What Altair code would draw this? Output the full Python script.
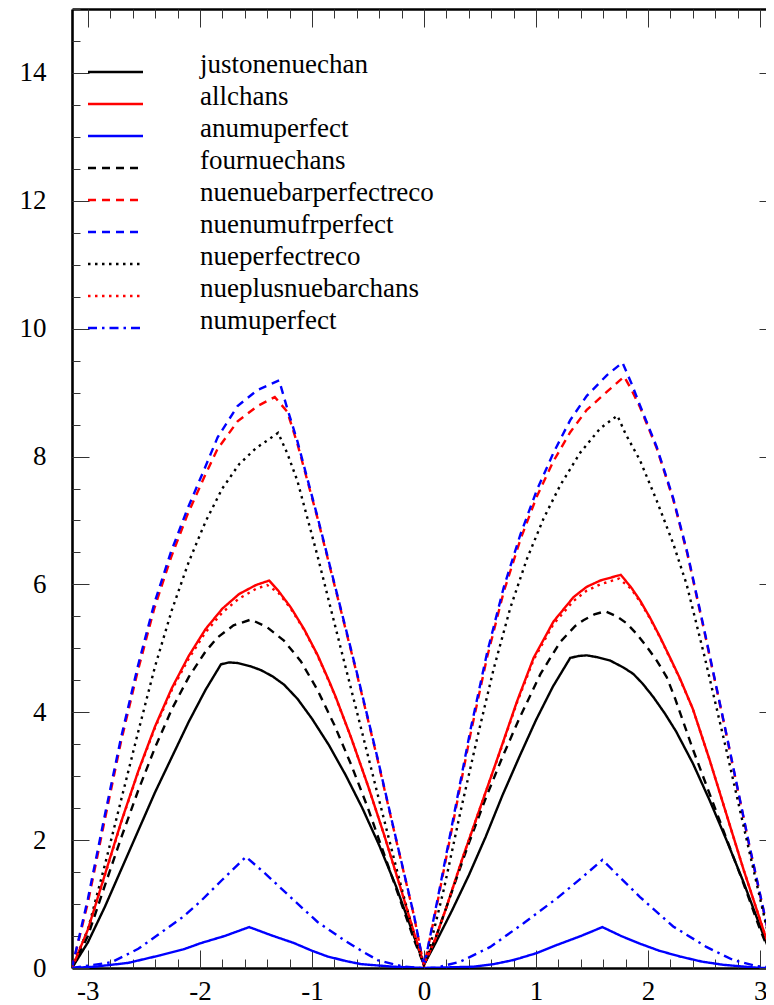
import math
import altair as alt
import pandas as pd

names = ["justonenuechan", "allchans", "anumuperfect", "fournuechans",
         "nuenuebarperfectreco", "nuenumufrperfect", "nueperfectreco",
         "nueplusnuebarchans", "numuperfect"]
colors = ["#000000", "#ff0000", "#0000ff", "#000000", "#ff0000", "#0000ff",
          "#000000", "#ff0000", "#0000ff"]
dashes = [[1, 0], [1, 0], [1, 0], [8, 6], [8, 6], [8, 6], [2.5, 4.5], [2.5, 4.5], [9, 5, 2.5, 5]]

PI = math.pi

x_justonenuechan = [-PI, -3.0, -2.85, -2.7, -2.55, -2.4, -2.25, -2.1, -1.95, -1.812, -1.74, -1.663,
                    -1.55, -1.456, -1.35, -1.248, -1.129, -1.0, -0.85, -0.7, -0.55, -0.4, -0.25,
                    -0.1, 0.0,
                    0.1, 0.25, 0.4, 0.55, 0.7, 0.85, 1.0, 1.15, 1.305, 1.38, 1.453, 1.55, 1.66,
                    1.78, 1.868, 1.95, 2.046, 2.15, 2.25, 2.4, 2.55, 2.7, 2.85, 3.0, PI]
y_justonenuechan = [0.0, 0.4, 0.95, 1.55, 2.15, 2.75, 3.3, 3.85, 4.35, 4.75, 4.78, 4.77,
                    4.72, 4.66, 4.56, 4.43, 4.21, 3.9, 3.49, 3.02, 2.5, 1.92, 1.28,
                    0.55, 0.05,
                    0.38, 0.9, 1.45, 2.05, 2.7, 3.3, 3.88, 4.4, 4.85, 4.88, 4.89, 4.86, 4.81,
                    4.7, 4.6, 4.45, 4.24, 3.98, 3.7, 3.2, 2.62, 2.0, 1.35, 0.65, 0.0]

x_allchans = [-PI, -3.0, -2.85, -2.7, -2.55, -2.4, -2.25, -2.1, -1.95, -1.8, -1.65, -1.5, -1.382,
              -1.3, -1.189, -1.07, -0.951, -0.85, -0.788, -0.65, -0.5, -0.35, -0.2, -0.08, 0.0,
              0.1, 0.2, 0.35, 0.5, 0.65, 0.83, 0.978, 1.156, 1.334, 1.45, 1.572, 1.756,
              1.85, 1.928, 2.02, 2.106, 2.2, 2.284, 2.4, 2.55, 2.7, 2.85, 3.0, PI]
y_allchans = [0.0, 0.6, 1.45, 2.3, 3.08, 3.78, 4.38, 4.88, 5.3, 5.62, 5.85, 5.99, 6.06,
              5.9, 5.64, 5.3, 4.9, 4.5, 4.24, 3.6, 2.85, 2.05, 1.2, 0.5, 0.05,
              0.45, 0.95, 1.75, 2.5, 3.25, 4.17, 4.85, 5.42, 5.8, 5.96, 6.06, 6.15,
              5.95, 5.75, 5.47, 5.18, 4.84, 4.53, 4.05, 3.25, 2.4, 1.55, 0.75, 0.0]

x_anumuperfect = [-PI, -2.94, -2.64, -2.35, -2.15, -1.99, -1.78, -1.56, -1.36, -1.16, -1.0, -0.86,
                  -0.7, -0.56, -0.27, 0.0,
                  0.44, 0.62, 0.8, 1.0, 1.186, 1.4, 1.592, 1.76, 1.928, 2.1, 2.284, 2.48, 2.67,
                  3.0, PI]
y_anumuperfect = [0.0, 0.02, 0.08, 0.2, 0.29, 0.39, 0.5, 0.64, 0.51, 0.39, 0.27, 0.18,
                  0.11, 0.06, 0.02, 0.0,
                  0.02, 0.06, 0.125, 0.23, 0.36, 0.5, 0.64, 0.5, 0.38, 0.27, 0.18, 0.1, 0.05,
                  0.0, 0.0]

x_fournuechans = [-PI, -3.0, -2.85, -2.7, -2.55, -2.4, -2.25, -2.1, -1.95, -1.842, -1.7, -1.545,
                  -1.4, -1.25, -1.1, -0.951, -0.8, -0.65, -0.5, -0.35, -0.2, -0.08, 0.0,
                  0.1, 0.25, 0.4, 0.55, 0.7, 0.85, 1.04, 1.216, 1.35, 1.423, 1.52, 1.616, 1.72,
                  1.81, 1.9, 1.99, 2.08, 2.166, 2.24, 2.4, 2.55, 2.7, 2.85, 3.0, PI]
y_fournuechans = [0.0, 0.5, 1.28, 2.05, 2.78, 3.45, 4.05, 4.55, 4.95, 5.17, 5.36, 5.45,
                  5.33, 5.12, 4.8, 4.35, 3.8, 3.18, 2.5, 1.75, 1.0, 0.4, 0.05,
                  0.45, 1.2, 1.95, 2.65, 3.3, 3.9, 4.6, 5.1, 5.35, 5.44, 5.53, 5.58, 5.5,
                  5.39, 5.22, 5.02, 4.8, 4.55, 4.22, 3.42, 2.72, 2.02, 1.33, 0.6, 0.0]

x_nuenuebarperfectreco = [-PI, -3.0, -2.851, -2.703, -2.554, -2.406, -2.258, -2.109, -1.961, -1.842,
                          -1.664, -1.486, -1.332, -1.22, -1.13, -0.951, -0.773, -0.595, -0.417,
                          -0.239, -0.09, 0.0,
                          0.117, 0.266, 0.414, 0.563, 0.711, 0.86, 1.008, 1.156, 1.305, 1.453,
                          1.631, 1.786, 1.85, 1.928, 2.077, 2.224, 2.35, 2.5, 2.7, 2.9, 3.05, PI]
y_nuenuebarperfectreco = [0.0, 1.02, 2.3, 3.55, 4.65, 5.63, 6.42, 7.1, 7.68, 8.12,
                          8.55, 8.79, 8.93, 8.7, 8.2, 7.04, 5.81, 4.57, 3.28,
                          1.93, 0.82, 0.02,
                          1.0, 2.33, 3.65, 4.86, 5.88, 6.7, 7.38, 7.93, 8.38, 8.73,
                          9.01, 9.25, 9.05, 8.77, 8.13, 7.33, 6.48, 5.28, 3.64, 1.94, 0.74, 0.0]

x_nuenumufrperfect = [-PI, -3.0, -2.851, -2.703, -2.554, -2.406, -2.258, -2.109, -1.961, -1.842,
                      -1.664, -1.486, -1.293, -1.22, -1.13, -0.951, -0.773, -0.595, -0.417,
                      -0.239, -0.09, 0.0,
                      0.117, 0.266, 0.414, 0.563, 0.711, 0.86, 1.008, 1.156, 1.305, 1.453,
                      1.631, 1.771, 1.85, 1.928, 2.077, 2.224, 2.35, 2.5, 2.7, 2.9, 3.05, PI]
y_nuenumufrperfect = [0.0, 1.08, 2.37, 3.61, 4.72, 5.71, 6.51, 7.19, 7.8, 8.3,
                      8.79, 9.04, 9.19, 8.75, 8.24, 7.06, 5.83, 4.59, 3.3,
                      1.94, 0.83, 0.02,
                      1.04, 2.38, 3.72, 4.93, 5.95, 6.78, 7.48, 8.06, 8.57, 8.95,
                      9.27, 9.47, 9.15, 8.8, 8.15, 7.35, 6.5, 5.3, 3.65, 1.95, 0.75, 0.0]

x_nueperfectreco = [-PI, -3.0, -2.85, -2.7, -2.55, -2.4, -2.25, -2.1, -1.95, -1.8, -1.65, -1.5,
                    -1.4, -1.302, -1.22, -1.13, -0.951, -0.773, -0.595, -0.417, -0.239, -0.09, 0.0,
                    0.028, 0.177, 0.325, 0.474, 0.622, 0.77, 0.919, 1.067, 1.216, 1.394, 1.572,
                    1.726, 1.8, 1.928, 2.077, 2.224, 2.344, 2.5, 2.7, 2.9, 3.05, PI]
y_nueperfectreco = [0.0, 0.6, 1.6, 2.65, 3.7, 4.72, 5.6, 6.35, 6.98, 7.5, 7.88, 8.13,
                    8.25, 8.37, 8.05, 7.62, 6.45, 5.21, 3.98, 2.74, 1.51, 0.52, 0.05,
                    0.15, 1.23, 2.44, 3.59, 4.68, 5.63, 6.4, 7.03, 7.55, 8.06, 8.44,
                    8.64, 8.35, 7.94, 7.31, 6.64, 6.0, 4.9, 3.4, 1.85, 0.7, 0.0]

x_nueplusnuebarchans = [-PI, -3.0, -2.85, -2.7, -2.55, -2.4, -2.25, -2.1, -1.95, -1.8, -1.65, -1.5,
                        -1.4, -1.3, -1.189, -1.07, -0.951, -0.85, -0.788, -0.65, -0.5, -0.35, -0.2,
                        -0.08, 0.0,
                        0.1, 0.2, 0.35, 0.5, 0.65, 0.83, 0.978, 1.156, 1.334, 1.45, 1.572, 1.74,
                        1.85, 1.928, 2.02, 2.106, 2.2, 2.284, 2.4, 2.55, 2.7, 2.85, 3.0, PI]
y_nueplusnuebarchans = [0.0, 0.6, 1.44, 2.29, 3.07, 3.76, 4.35, 4.84, 5.25, 5.56, 5.78, 5.93,
                        5.99, 5.87, 5.62, 5.29, 4.89, 4.49, 4.23, 3.6, 2.85, 2.05, 1.2,
                        0.5, 0.05,
                        0.45, 0.95, 1.75, 2.5, 3.24, 4.15, 4.82, 5.38, 5.74, 5.9, 6.0, 6.09,
                        5.93, 5.73, 5.46, 5.17, 4.83, 4.52, 4.05, 3.25, 2.4, 1.55, 0.75, 0.0]

x_numuperfect = [-PI, -2.79, -2.55, -2.35, -2.15, -1.99, -1.8, -1.589, -1.4, -1.162, -0.95, -0.717,
                 -0.55, -0.41, -0.18, 0.0,
                 0.1, 0.325, 0.592, 0.889, 1.186, 1.4, 1.592, 1.76, 1.928, 2.224, 2.52, 2.759,
                 2.97, PI]
y_numuperfect = [0.0, 0.09, 0.3, 0.55, 0.8, 1.05, 1.38, 1.74, 1.45, 1.06, 0.72, 0.44,
                 0.26, 0.12, 0.02, 0.0,
                 0.0, 0.1, 0.33, 0.7, 1.09, 1.4, 1.69, 1.4, 1.11, 0.65, 0.33, 0.125,
                 0.03, 0.0]

series_x = [x_justonenuechan, x_allchans, x_anumuperfect, x_fournuechans, x_nuenuebarperfectreco,
            x_nuenumufrperfect, x_nueperfectreco, x_nueplusnuebarchans, x_numuperfect]
series_y = [y_justonenuechan, y_allchans, y_anumuperfect, y_fournuechans, y_nuenuebarperfectreco,
            y_nuenumufrperfect, y_nueperfectreco, y_nueplusnuebarchans, y_numuperfect]

x_major = [-3, -2, -1, 0, 1, 2, 3]
x_minor = [round(-3.0 + 0.2 * i, 1) for i in range(31)]
y_major = [0, 2, 4, 6, 8, 10, 12, 14]
y_minor = [0.5 * i for i in range(31)]

rows = []
for name, xs, ys in zip(names, series_x, series_y):
    for i, (xv, yv) in enumerate(zip(xs, ys)):
        rows.append({"name": name, "x": xv, "y": yv, "i": i})
df = pd.DataFrame(rows)
leg = pd.DataFrame({"name": names})

FULL_W = 704          # width that spans -pi..pi
W, H = 694, 959       # visible plot area (right edge falls off the page as in the original)
X_RIGHT = -PI + W * (2 * PI / FULL_W)
FONT = "Liberation Serif, Times New Roman, DejaVu Serif, serif"

xs_ = alt.Scale(domain=[-PI, X_RIGHT], nice=False, zero=False)
ys_ = alt.Scale(domain=[0, 15], nice=False, zero=False)
cscale = alt.Scale(domain=names, range=colors)
dscale = alt.Scale(domain=names, range=dashes)


def tick_axis(orient, values, size, offset, domain=False):
    return alt.Axis(orient=orient, values=values, tickSize=size, offset=offset, labels=False,
                    domain=domain, domainColor="black", domainWidth=2.6,
                    grid=False, title=None, tickColor="#333333", tickWidth=1)


main = alt.Chart(df).mark_line(strokeWidth=2.4, clip=True).encode(
    x=alt.X("x:Q", scale=xs_, axis=alt.Axis(orient="bottom", values=x_major, ticks=False, tickSize=0,
                                            domain=True, domainColor="black", domainWidth=2.6,
                                            grid=False, title=None, labelFont=FONT,
                                            labelFontSize=27, labelPadding=10, labelColor="black",
                                            labelFlush=False, labelExpr="'' + datum.value")),
    y=alt.Y("y:Q", scale=ys_, axis=alt.Axis(orient="left", values=y_major, ticks=False, tickSize=0,
                                            domain=True, domainColor="black", domainWidth=2.6,
                                            grid=False, title=None, labelFont=FONT,
                                            labelFontSize=27, labelPadding=26, labelColor="black",
                                            labelBaseline="middle")),
    color=alt.Color("name:N", scale=cscale, legend=None),
    strokeDash=alt.StrokeDash("name:N", scale=dscale, legend=None),
    detail="name:N",
    order=alt.Order("i:Q"),
)


def ghost(xaxis, yaxis):
    return alt.Chart(df).mark_line(opacity=0).encode(
        x=alt.X("x:Q", scale=xs_, axis=xaxis),
        y=alt.Y("y:Q", scale=ys_, axis=yaxis),
        detail="name:N",
    )


g1 = ghost(tick_axis("top", x_major, 18, -H), tick_axis("right", y_major, 17, -W))
g2 = ghost(tick_axis("top", x_minor, 9, -H), tick_axis("right", y_minor, 8, -W))
g3 = ghost(tick_axis("bottom", x_major, 18, -H, domain=True), tick_axis("left", y_major, 17, -FULL_W))
g4 = ghost(tick_axis("bottom", x_minor, 9, -H), tick_axis("left", y_minor, 8, -FULL_W))

leg_y = alt.Y("name:N", scale=alt.Scale(type="point", domain=names, range=[63, 319], padding=0),
              axis=None)
leg_lines = alt.Chart(leg).mark_rule(strokeWidth=2.4).encode(
    x=alt.value(16), x2=alt.value(71), y=leg_y,
    color=alt.Color("name:N", scale=cscale, legend=None),
    strokeDash=alt.StrokeDash("name:N", scale=dscale, legend=None),
)
leg_text = alt.Chart(leg).mark_text(align="left", baseline="alphabetic", dy=1, font=FONT,
                                    fontSize=27, color="black").encode(
    x=alt.value(128), y=leg_y, text="name:N",
)

chart = alt.layer(main, g1, g2, g3, g4, leg_lines, leg_text).resolve_scale(
    y="independent"
).resolve_axis(x="independent", y="independent").properties(
    width=W, height=H, autosize="none",
    padding={"left": 64, "top": 1, "right": 0, "bottom": 37},
).configure_view(stroke=None)

chart.save("out.html", embed_options={"renderer": "svg", "actions": False})
